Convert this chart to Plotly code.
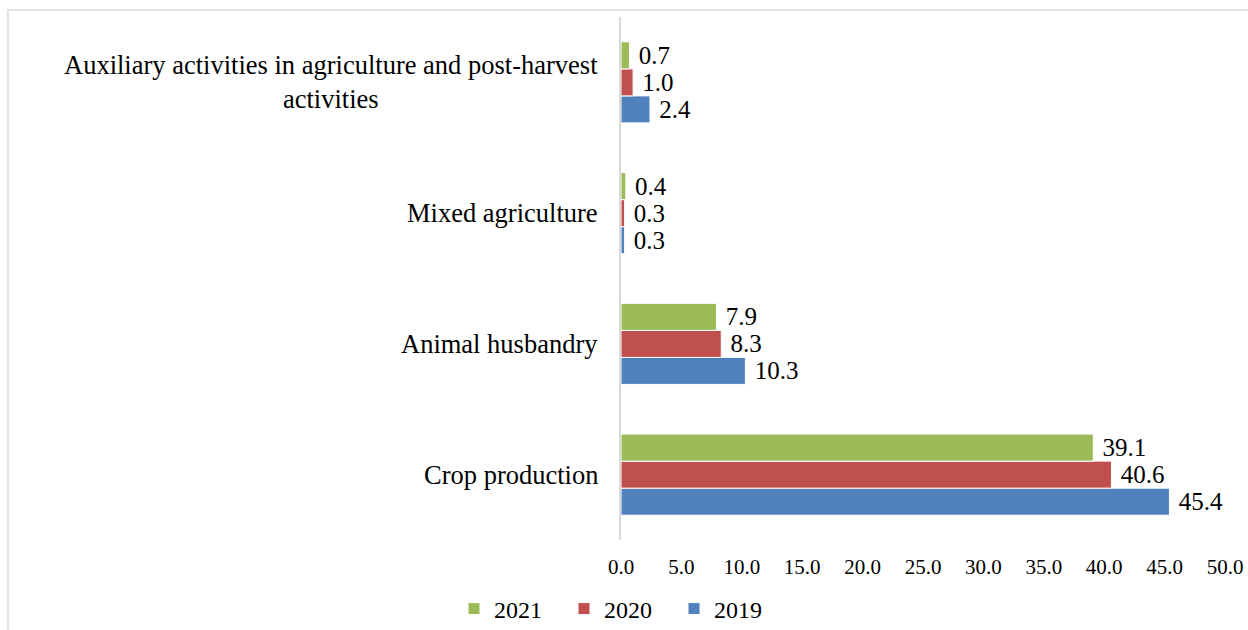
import plotly.graph_objects as go

categories = ["Crop production", "Animal husbandry", "Mixed agriculture",
              "Auxiliary activities in agriculture and post-harvest<br>activities"]
series_names = ["2019", "2020", "2021"]
values_2019 = [45.4, 10.3, 0.3, 2.4]
values_2020 = [40.6, 8.3, 0.3, 1.0]
values_2021 = [39.1, 7.9, 0.4, 0.7]
colors = ["#4F81BD", "#C0504D", "#9BBB59"]
x_ticks = [0, 5, 10, 15, 20, 25, 30, 35, 40, 45, 50]

FONT = "Liberation Serif"
fig = go.Figure()
for name, vals, col in zip(series_names, [values_2019, values_2020, values_2021], colors):
    fig.add_trace(go.Bar(
        y=categories, x=vals, name=name, orientation="h",
        marker=dict(color=col, line=dict(color="white", width=1)),
        text=["\u00a0" + f"{v:.1f}" for v in vals], textposition="outside",
        textfont=dict(family=FONT, size=25, color="#000"), cliponaxis=False,
    ))

L, R, T, B = 621, 23, 17, 90
W, H = 1248, 630
pw, ph = W - L - R, H - T - B

for c in categories:
    fig.add_annotation(x=0, xref="paper", y=c, yref="y", text=c, showarrow=False,
                       xanchor="right", yanchor="middle", align="center", xshift=-21,
                       font=dict(family=FONT, size=26.5, color="#000"))

fig.add_shape(type="rect", xref="paper", yref="paper",
              x0=(8 - L) / pw, x1=(W + 20 - L) / pw,
              y0=(H - B - (H + 20)) / ph, y1=(H - B - 10) / ph,
              line=dict(color="#D9D9D9", width=1.5), layer="below")

fig.update_layout(
    width=W, height=H, margin=dict(l=L, r=R, t=T, b=B, autoexpand=False),
    paper_bgcolor="white", plot_bgcolor="white",
    barmode="group", bargap=0.38, bargroupgap=0,
    font=dict(family=FONT, color="#000"),
    showlegend=True,
    legend=dict(orientation="h", traceorder="reversed",
                x=(454 - L) / pw, xanchor="left", y=(H - B - 609) / ph, yanchor="middle",
                font=dict(family=FONT, size=24, color="#000"), entrywidth=65),
    xaxis=dict(range=[0, 50], tickvals=x_ticks, ticktext=[f"{v:.1f}" for v in x_ticks],
               showgrid=False, zeroline=False, showline=False, ticks="",
               ticklabelstandoff=12,
               tickfont=dict(family=FONT, size=21, color="#000")),
    yaxis=dict(showticklabels=False, showgrid=False, showline=True,
               linecolor="#D9D9D9", linewidth=2, ticks="", zeroline=False),
)
fig.write_html("out.html")
